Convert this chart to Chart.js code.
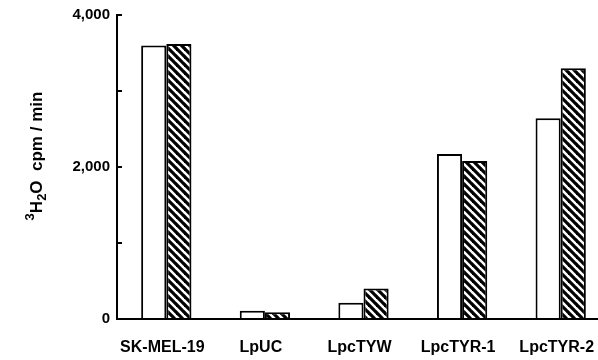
<!DOCTYPE html>
<html>
<head>
<meta charset="utf-8">
<script src="https://cdn.jsdelivr.net/npm/chart.js@4"></script>
<style>
  html, body { margin: 0; padding: 0; background: #fff; overflow: hidden; }
  #wrap { width: 610px; height: 360px; }
</style>
</head>
<body>
<div id="wrap"><canvas id="myChart" width="610" height="360"></canvas></div>
<script>
const categories = ['SK-MEL-19', 'LpUC', 'LpcTYW', 'LpcTYR-1', 'LpcTYR-2'];
const openValues = [3600, 110, 215, 2170, 2640];
const hatchedValues = [3620, 90, 400, 2080, 3300];
const yTickLabels = { 0: '0', 2000: '2,000', 4000: '4,000' };
// y title pieces: [text, kind]
const yTitleParts = [['3', 'sup'], ['H', 'main'], ['2', 'sub'], ['O  cpm / min', 'main']];

function makeHatch() {
    const s = 8;
    const c = document.createElement('canvas');
    c.width = s;
    c.height = s;
    const g = c.getContext('2d');
    g.fillStyle = '#fff';
    g.fillRect(0, 0, s, s);
    g.strokeStyle = '#000';
    g.lineWidth = 3.2;
    [-s, 0, s].forEach(k => {
        g.beginPath();
        g.moveTo(k - 1, -1);
        g.lineTo(k + s + 1, s + 1);
        g.stroke();
    });
    return g.createPattern(c, 'repeat');
}

// draws the rotated y title with real super/subscripts
const yTitlePlugin = {
    id: 'yTitle',
    afterDraw(chart) {
        const g = chart.ctx;
        const mainFont = 'bold 17px "Liberation Sans"';
        const smallFont = 'bold 13px "Liberation Sans"';
        g.save();
        let total = 0;
        yTitleParts.forEach(([t, kind]) => {
            g.font = kind === 'main' ? mainFont : smallFont;
            total += g.measureText(t).width;
        });
        g.translate(42, 156);
        g.rotate(-Math.PI / 2);
        g.fillStyle = '#000';
        g.textBaseline = 'alphabetic';
        g.textAlign = 'left';
        let x = -total / 2;
        yTitleParts.forEach(([t, kind]) => {
            g.font = kind === 'main' ? mainFont : smallFont;
            const dy = kind === 'sup' ? -8 : kind === 'sub' ? 4 : 0;
            g.fillText(t, x, dy);
            x += g.measureText(t).width;
        });
        g.restore();
    }
};

const ctx = document.getElementById('myChart').getContext('2d');
const chart = new Chart(ctx, {
    type: 'bar',
    data: {
        labels: categories,
        datasets: [{
            label: 'open',
            data: openValues,
            backgroundColor: '#fff',
            borderColor: '#000',
            borderWidth: 2,
            barPercentage: 1,
            categoryPercentage: 0.51
        }, {
            label: 'hatched',
            data: hatchedValues,
            backgroundColor: makeHatch(),
            borderColor: '#000',
            borderWidth: 2,
            barPercentage: 1,
            categoryPercentage: 0.51
        }]
    },
    options: {
        responsive: false,
        animation: false,
        layout: { padding: { top: 15, right: 0, left: 0, bottom: 0 } },
        plugins: {
            legend: { display: false },
            tooltip: { enabled: false }
        },
        scales: {
            x: {
                grid: { display: false },
                border: { color: '#000', width: 2 },
                ticks: {
                    color: '#000',
                    padding: 11,
                    labelOffset: -4,
                    font: { family: 'Liberation Sans', size: 16, weight: 'bold' }
                },
                afterFit: scale => { scale.height = 41; }
            },
            y: {
                min: 0,
                max: 4000,
                grid: { drawOnChartArea: false, tickLength: -5, color: '#000', lineWidth: 2 },
                border: { color: '#000', width: 2 },
                ticks: {
                    stepSize: 1000,
                    color: '#000',
                    padding: 12,
                    font: { family: 'Liberation Sans', size: 15, weight: 'bold' },
                    callback: v => yTickLabels[v] !== undefined ? yTickLabels[v] : ''
                },
                afterFit: scale => {
                    scale.width = 117;
                    scale.paddingTop = 9;
                    scale.paddingBottom = 9;
                }
            }
        }
    },
    plugins: [yTitlePlugin]
});
</script>
</body>
</html>
